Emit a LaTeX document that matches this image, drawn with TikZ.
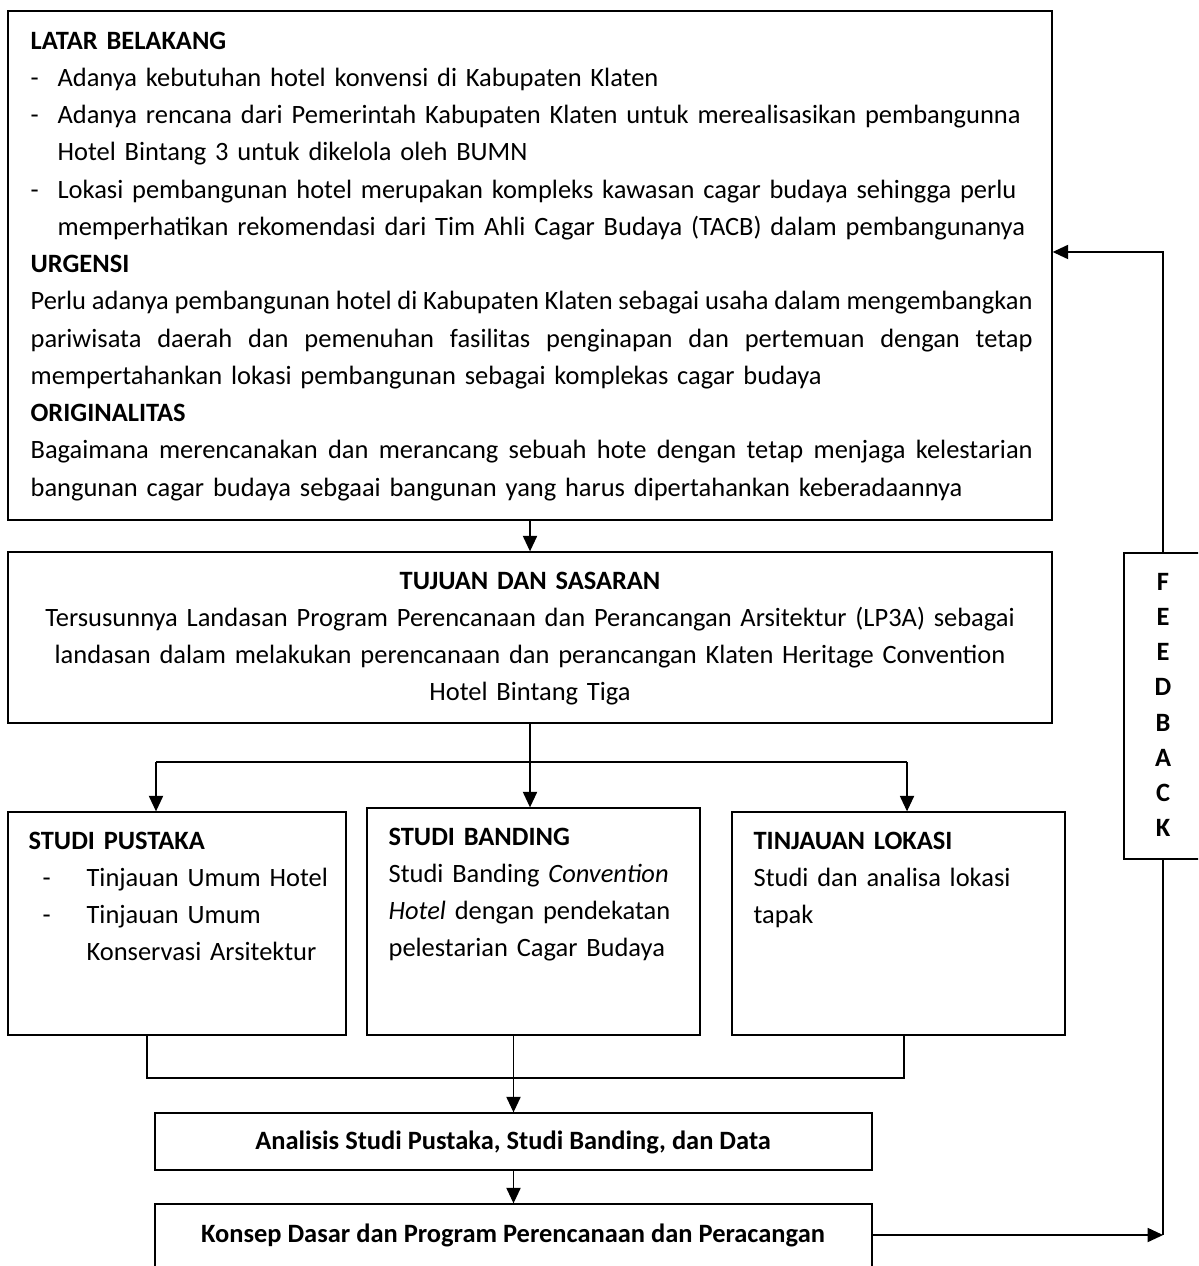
\documentclass[tikz,border=0pt]{standalone}
\usepackage{fontspec}
\setmainfont{Carlito}
\usetikzlibrary{arrows.meta,fit,positioning}

\newlength\pxu
\setlength\pxu{0.4082pt}
\newcommand\jline[1]{\makebox[\hsize][s]{\spaceskip=0.226em plus 1em minus 0.13em\relax #1}}
\newcommand\dashitem{\makebox[27\pxu][l]{-}}
\newcommand\indentitem{\hspace*{27\pxu}}
\newcommand\studiitem{\makebox[58\pxu][l]{\hspace*{14\pxu}-}}

\tikzset{
  box/.style={draw, line width=0.55pt, inner sep=0pt},
  txt/.style={inner sep=0pt, align=left, font=\fontsize{10.8}{15.2}\selectfont},
  tebal/.style={txt, font=\fontsize{10.8}{15.2}\selectfont\bfseries},
  arr/.style={-{Triangle[length=6.3pt,width=5.8pt]}},
}

\begin{document}
\begin{tikzpicture}[x=0.4082pt, y=-0.4082pt, line width=0.5pt]
        \useasboundingbox (0,0) rectangle (1198,1266);
        \clip (0,0) rectangle (1198,1266);

        % kotak
        \node[box, fit={(8,11) (1052,520)}] (latar) {};
        \node[box, fit={(8,552) (1052,723)}] (tujuan) {};
        \node[box, fit={(8,812) (346,1035)}] (pustaka) {};
        \node[box, fit={(367,808) (700,1035)}] (banding) {};
        \node[box, fit={(732,812) (1065,1035)}] (lokasi) {};
        \node[box, fit={(155,1113) (872,1170)}] (analisis) {};
        \node[box, fit={(155,1204) (872,1300)}] (konsep) {};
        \node[box, fit={(1124,553) (1205,859)}] (feedback) {};

        % teks latar belakang
        \node[txt, text width=409pt, anchor=north west] (latartxt) at (30,31.3) {%
            \mbox{\textbf{LATAR BELAKANG}}\\
            \mbox{\dashitem Adanya kebutuhan hotel konvensi di Kabupaten Klaten}\\
            \mbox{\dashitem Adanya rencana dari Pemerintah Kabupaten Klaten untuk merealisasikan pembangunna}\\
            \mbox{\indentitem Hotel Bintang 3 untuk dikelola oleh BUMN}\\
            \mbox{\dashitem Lokasi pembangunan hotel merupakan kompleks kawasan cagar budaya sehingga perlu}\\
            \mbox{\indentitem memperhatikan rekomendasi dari Tim Ahli Cagar Budaya (TACB) dalam pembangunanya}\\
            \mbox{\textbf{URGENSI}}\\
            \jline{Perlu adanya pembangunan hotel di Kabupaten Klaten sebagai usaha dalam mengembangkan}\\
            \jline{pariwisata daerah dan pemenuhan fasilitas penginapan dan pertemuan dengan tetap}\\
            \mbox{mempertahankan lokasi pembangunan sebagai komplekas cagar budaya}\\
            \mbox{\textbf{ORIGINALITAS}}\\
            \jline{Bagaimana merencanakan dan merancang sebuah hote dengan tetap menjaga kelestarian}\\
            \mbox{bangunan cagar budaya sebgaai bangunan yang harus dipertahankan keberadaannya}};

        % teks tujuan
        \node[txt, text width=420pt, align=center, anchor=north] (tujuantxt) at (530,571.3) {%
            \textbf{TUJUAN DAN SASARAN}\\
            \mbox{Tersusunnya Landasan Program Perencanaan dan Perancangan Arsitektur (LP3A) sebagai}\\
            \mbox{landasan dalam melakukan perencanaan dan perancangan Klaten Heritage Convention}\\
            Hotel Bintang Tiga};

        % teks studi
        \node[txt, text width=131pt, anchor=north west] (pustakatxt) at (28,831.3) {%
            \textbf{STUDI PUSTAKA}\\
            \mbox{\studiitem Tinjauan Umum Hotel}\\
            \mbox{\studiitem Tinjauan Umum}\\
            \mbox{\hspace*{58\pxu}Konservasi Arsitektur}};
        \node[txt, text width=131pt, anchor=north west] (bandingtxt) at (388,827.3) {%
            \textbf{STUDI BANDING}\\
            \mbox{Studi Banding \textit{Convention}}\\
            \mbox{\textit{Hotel} dengan pendekatan}\\
            \mbox{pelestarian Cagar Budaya}};
        \node[txt, text width=131pt, anchor=north west] (lokasitxt) at (753,831.3) {%
            \textbf{TINJAUAN LOKASI}\\
            \mbox{Studi dan analisa lokasi}\\
            tapak};

        \node[tebal] (analisistxt) at (513,1142) {Analisis Studi Pustaka, Studi Banding, dan Data};
        \node[tebal] (konseptxt) at (513,1235) {Konsep Dasar dan Program Perencanaan dan Peracangan};

        % huruf feedback
        \foreach \huruf [count=\i] in {F,E,E,D,B,A,C,K}
            \node[tebal] (fb\i) at (1163, 546.5+35.2*\i) {\huruf};

        % panah ke bawah
        \draw[arr] (latar.south) -- (tujuan.north);
        \coordinate (cabang) at (530,762);
        \coordinate (cabangL) at (156,762);
        \coordinate (cabangR) at (907,762);
        \draw (tujuan.south) -- (cabang);
        \draw (cabangL) -- (cabangR);
        \draw[arr] (cabangL) -- (cabangL |- pustaka.north);
        \draw[arr] (cabang) -- (cabang |- banding.north);
        \draw[arr] (cabangR) -- (cabangR |- lokasi.north);

        % gabungan studi
        \coordinate (gabungL) at (147,1078);
        \coordinate (gabungR) at (904,1078);
        \draw (gabungL |- pustaka.south) -- (gabungL) -- (gabungR) -- (gabungR |- lokasi.south);
        \draw[arr] (banding.south -| analisis.north) -- (analisis.north);
        \draw[arr] (analisis.south) -- (konsep.north);

        % feedback
        \coordinate (balik) at (1163,1235);
        \coordinate (atas) at (1163,252);
        \draw[arr] (konsep.east |- balik) -- (balik);
        \draw (feedback.south -| balik) -- (balik);
        \draw[arr] (feedback.north -| atas) -- (atas) -- (latar.east |- atas);
\end{tikzpicture}
\end{document}
